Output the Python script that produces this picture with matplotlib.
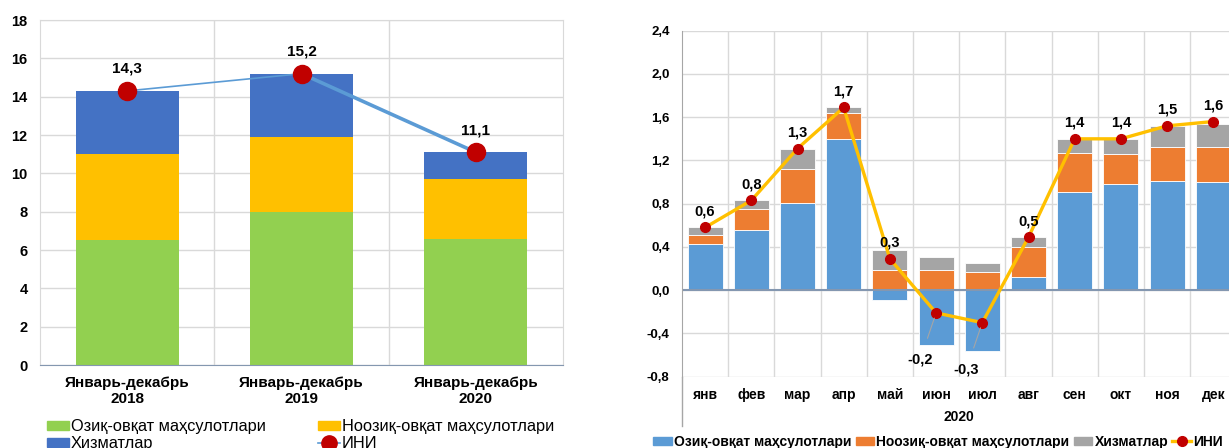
import numpy as np
import matplotlib.pyplot as plt
from matplotlib.lines import Line2D
from matplotlib.patches import Patch

plt.rcParams['font.family'] = ['Liberation Sans', 'DejaVu Sans']

### left chart: January-December totals
years = ['Январь-декабрь\n2018', 'Январь-декабрь\n2019', 'Январь-декабрь\n2020']
food_y = [6.5, 8.0, 6.6]
nonfood_y = [4.5, 3.9, 3.1]
services_y = [3.3, 3.3, 1.4]
cpi_y = [14.3, 15.2, 11.1]

### right chart: monthly 2020
months = ['янв', 'фев', 'мар', 'апр', 'май', 'июн', 'июл', 'авг', 'сен', 'окт', 'ноя', 'дек']
food_m = [0.43, 0.56, 0.81, 1.40, -0.09, -0.51, -0.56, 0.12, 0.91, 0.98, 1.01, 1.00]
nonfood_m = [0.08, 0.19, 0.31, 0.24, 0.19, 0.185, 0.17, 0.28, 0.36, 0.28, 0.31, 0.32]
services_m = [0.07, 0.08, 0.19, 0.055, 0.185, 0.12, 0.08, 0.09, 0.13, 0.14, 0.20, 0.22]
cpi_m = [0.58, 0.83, 1.31, 1.69, 0.29, -0.21, -0.30, 0.49, 1.40, 1.40, 1.52, 1.56]

names = ['Озиқ-овқат маҳсулотлари', 'Ноозиқ-овқат маҳсулотлари', 'Хизматлар', 'ИНИ']

W, H = 1229, 448
fig = plt.figure(figsize=(W / 100, H / 100), dpi=100)

def fmt(v):
    return f'{v:.1f}'.replace('.', ',')

grid_c = '#D9D9D9'
red = '#C00000'

## left
ax1 = fig.add_axes([40 / W, 83 / H, 523 / W, 345 / H])
x1 = np.arange(len(years))
cols1 = ['#92D050', '#FFC000', '#4472C4']
bottom = np.zeros(len(years))
for vals, c in zip([food_y, nonfood_y, services_y], cols1):
    ax1.bar(x1, vals, 0.59, bottom=bottom, color=c, zorder=2)
    bottom += np.array(vals)
ax1.plot(x1[:2], cpi_y[:2], color='#5B9BD5', lw=1.2, zorder=3)
ax1.plot(x1[1:], cpi_y[1:], color='#5B9BD5', lw=2.6, zorder=3)
ax1.plot(x1, cpi_y, 'o', color=red, ms=13, zorder=4)
for xi, v in zip(x1, cpi_y):
    ax1.annotate(fmt(v), (xi, v), xytext=(0, 22), textcoords='offset pixels',
                 ha='center', va='center', fontsize=11, fontweight='bold')
ax1.set_xlim(-0.5, 2.5)
ax1.set_ylim(0, 18)
ax1.set_yticks(np.arange(0, 19, 2))
ax1.set_xticks(x1)
ax1.set_xticklabels(years, fontsize=11, fontweight='bold')
for t in ax1.get_yticklabels():
    t.set_fontweight('bold')
    t.set_fontsize(10.5)
ax1.tick_params(length=0)
ax1.tick_params(axis='y', pad=9)
ax1.tick_params(axis='x', pad=8)
ax1.yaxis.grid(True, color=grid_c, lw=1, zorder=0)
for k in range(1, len(years)):
    ax1.axvline(k - 0.5, color=grid_c, lw=1, zorder=0)
for s in ax1.spines.values():
    s.set_color(grid_c)
ax1.spines['bottom'].set_color('#8497B0')

h1 = [Patch(color=c) for c in cols1]
h1.append(Line2D([], [], color='#5B9BD5', lw=1.2, marker='o', ms=11, mfc=red, mec=red))
order = [0, 2, 1, 3]
fig.legend([h1[i] for i in order], [names[i] for i in order], ncol=2,
           loc='upper left', bbox_to_anchor=(47 / W, 29 / H), frameon=False,
           fontsize=11.8, handlelength=1.35, handleheight=0.5, handletextpad=0.1,
           columnspacing=3.2, labelspacing=0.15, borderpad=0, borderaxespad=0)

## right
ax2 = fig.add_axes([682 / W, 71.3 / H, 554.4 / W, 346 / H])
x2 = np.arange(len(months))
cols2 = ['#5B9BD5', '#ED7D31', '#A5A5A5']
pos = np.zeros(len(months))
neg = np.zeros(len(months))
for vals, c in zip([food_m, nonfood_m, services_m], cols2):
    vals = np.array(vals)
    base = np.where(vals >= 0, pos, neg)
    ax2.bar(x2, vals, 0.76, bottom=base, color=c, edgecolor='white', lw=0.6, zorder=2)
    pos += np.where(vals >= 0, vals, 0)
    neg += np.where(vals < 0, vals, 0)
ax2.plot(x2, cpi_m, color='#FFC000', lw=2.4, zorder=3)
ax2.plot(x2, cpi_m, 'o', color=red, ms=7, zorder=4)
for xi, v in zip(x2, cpi_m):
    if v < 0:
        ax2.annotate(fmt(v), (xi, v), xytext=(-16, -47), textcoords='offset pixels',
                     ha='center', va='center', fontsize=10.5, fontweight='bold',
                     arrowprops=dict(arrowstyle='-', color='#A5A5A5', lw=0.8,
                                     shrinkA=9, shrinkB=4), zorder=5)
    else:
        ax2.annotate(fmt(v), (xi, v), xytext=(0, 16), textcoords='offset pixels',
                     ha='center', va='center', fontsize=10.5, fontweight='bold', zorder=5)
ax2.set_xlim(-0.5, 11.5)
ax2.set_ylim(-0.8, 2.4)
yt = np.round(np.arange(-0.8, 2.41, 0.4), 1)
ax2.set_yticks(yt)
ax2.set_yticklabels([fmt(t) for t in yt], fontsize=9.5, fontweight='bold')
ax2.set_xticks(x2)
ax2.set_xticklabels(months, fontsize=10, fontweight='bold')
ax2.tick_params(length=0)
ax2.tick_params(axis='y', pad=9)
ax2.tick_params(axis='x', pad=8)
ax2.yaxis.grid(True, color=grid_c, lw=1, zorder=0)
for k in range(1, len(months)):
    ax2.axvline(k - 0.5, color=grid_c, lw=1, zorder=0)
ax2.axhline(0, color='#8497B0', lw=1.5, zorder=2.5)
for s in ['top', 'right', 'bottom']:
    ax2.spines[s].set_visible(False)
ax2.spines['left'].set_color('#A6A6A6')
ax2.plot([0, 0], [-0.142, 0], transform=ax2.transAxes, color='#A6A6A6', lw=1, clip_on=False)
ax2.text(0.5, -0.117, '2020', transform=ax2.transAxes, ha='center', va='center',
         fontsize=10, fontweight='bold')

h2 = [Patch(color=c) for c in cols2]
h2.append(Line2D([], [], color='#FFC000', lw=2.4, marker='o', ms=7, mfc=red, mec=red))
fig.legend(h2, names, ncol=4, loc='center left', bbox_to_anchor=(653 / W, 6.5 / H),
           frameon=False, prop={'weight': 'bold', 'size': 10},
           handlelength=1.35, handleheight=0.5, handletextpad=0.15,
           columnspacing=0.3, borderpad=0, borderaxespad=0)

plt.savefig('out.png', dpi=100)
